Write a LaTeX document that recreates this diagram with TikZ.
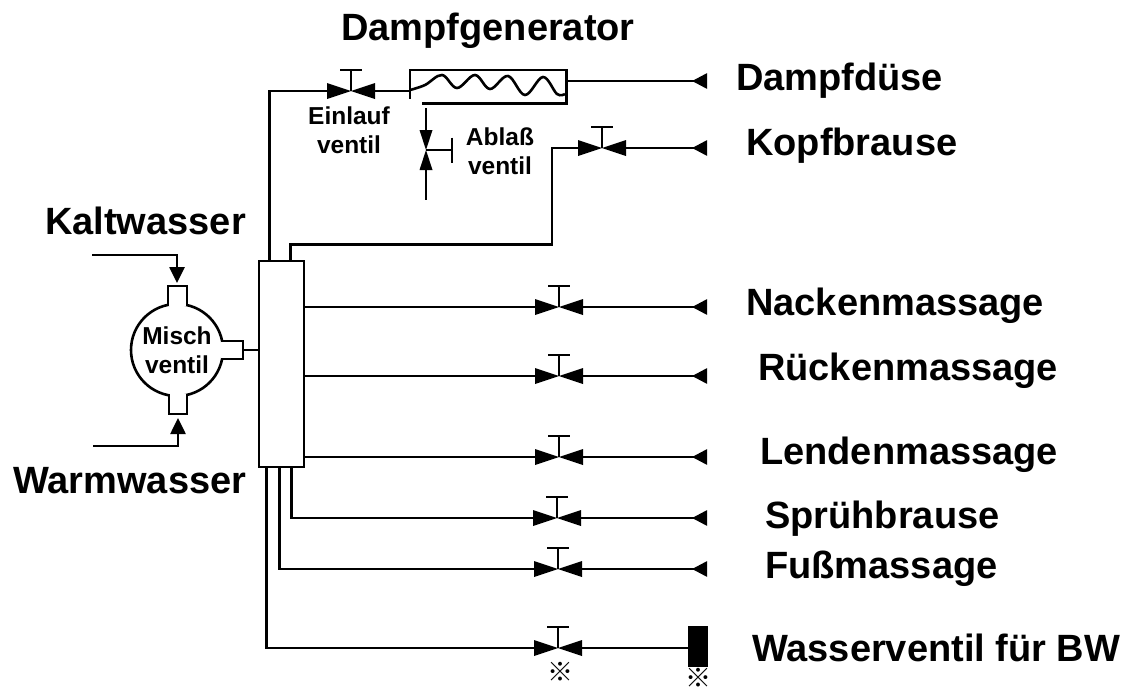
\documentclass[tikz,border=0pt]{standalone}
\usepackage{fontspec}
\setmainfont{Liberation Sans}
\newfontfamily\markfont{Noto Sans CJK JP}
\usepackage{tikz}
\usetikzlibrary{
    arrows.meta,
    positioning
}
\tikzset{pipe/.style={
    draw,
    line width=2.6pt,
}}
\tikzset{endtip/.style={
    pipe,
    -{Triangle[reversed,length=15pt,width=15pt]},
}}
\tikzset{intip/.style={
    pipe,
    -{Triangle[length=16pt,width=15pt]},
}}
\tikzset{biglabel/.style={
    inner sep=0pt,
    anchor=west,
    font=\fontsize{38}{42}\selectfont\bfseries,
}}
\tikzset{smalllabel/.style={
    inner sep=0pt,
    align=center,
    font=\fontsize{24.5}{29}\selectfont\bfseries,
}}
\tikzset{refmark/.style={
    inner sep=0pt,
    font=\fontsize{26}{28}\selectfont\markfont\bfseries,
}}
\tikzset{manifold/.style={
    pipe,
    fill=white,
    minimum width=45pt,
    minimum height=206pt,
    inner sep=0pt,
}}
\tikzset{mixer/.style={
    pipe,
    circle,
    minimum size=92pt,
    inner sep=0pt,
    align=center,
    font=\fontsize{24.5}{29}\selectfont\bfseries,
}}
\tikzset{generator/.style={
    draw=none,
    minimum width=156pt,
    minimum height=33pt,
    inner sep=0pt,
}}
\tikzset{waterblock/.style={
    fill=black,
    minimum width=20pt,
    minimum height=41pt,
    inner sep=0pt,
}}
\tikzset{valve/.pic={
    \fill (-24,-8) -- (0,0) -- (-24,8) -- cycle;
    \fill (24,-8) -- (0,0) -- (24,8) -- cycle;
    \draw[pipe] (0,0) -- (0,-21);
    \draw[pipe] (-11,-21) -- (11,-21);
    \coordinate (-left) at (-24,0);
    \coordinate (-right) at (24,0);
}}
\tikzset{drainvalve/.pic={
    \fill (-6.5,-20) -- (0,0) -- (6.5,-20) -- cycle;
    \fill (-6.5,20) -- (0,0) -- (6.5,20) -- cycle;
    \draw[pipe] (0,0) -- (26,0);
    \draw[pipe] (26,-12.5) -- (26,12.5);
    \coordinate (-top) at (0,-20);
    \coordinate (-bottom) at (0,20);
}}

\begin{document}
\begin{tikzpicture}[x=1pt,y=-1pt]
            \useasboundingbox (0,0) rectangle (1132,691);

            % manifold and mixing valve
            \node[manifold] (rail) at (281.5,364) {};
            \node[mixer] (misch) at (177,350) {Misch\\ventil};
            \draw[pipe,fill=white] (168,306) -- (168,286) -- (187,286) -- (187,306);
            \draw[pipe,fill=white] (169,394) -- (169,414) -- (187,414) -- (187,394);
            \draw[pipe,fill=white] (221,341) -- (243,341) -- (243,359) -- (221,359);
            \coordinate (mischout) at (243,350);
            \coordinate (kaltin) at (92,255);
            \coordinate (kalttip) at (177,283);
            \coordinate (warmin) at (93,446);
            \coordinate (warmtip) at (178,418);
            \draw[intip] (kaltin) -| (kalttip);
            \draw[intip] (warmin) -| (warmtip);
            \draw[pipe] (mischout) -- (rail.west |- mischout);

            % valves
            \pic (v0) at (351,91) {valve};
            \pic (v1) at (602,148) {valve};
            \pic (v2) at (559,307) {valve};
            \pic (v3) at (559,376) {valve};
            \pic (v4) at (559,457) {valve};
            \pic (v5) at (557,518) {valve};
            \pic (v6) at (558,569) {valve};
            \pic (v7) at (558,648) {valve};

            % free ends on the right
            \coordinate (e0) at (707,81);
            \coordinate (e1) at (707,148);
            \coordinate (e2) at (707,307);
            \coordinate (e3) at (707,376);
            \coordinate (e4) at (707,457);
            \coordinate (e5) at (707,518);
            \coordinate (e6) at (707,569);
            \node[waterblock] (block) at (698,646.5) {};

            % steam generator
            \node[generator] (gen) at (488,86.5) {};
            \draw[pipe] ([yshift=-29pt]gen.north west) -- (gen.north west) -- (gen.north east) -- (gen.south east) -- ([xshift=12pt]gen.south west);
            \draw[pipe] plot[smooth,tension=0.6] coordinates {(410,90) (425,85) (442,75) (457,88) (475,75) (490,89) (508,76) (525,95) (543,77) (557,94) (565,94)};
            \draw[pipe] (v0-right) -- (gen.west |- v0-right);
            \draw[endtip] (gen.east |- e0) -- (e0);

            % drain valve
            \pic (v8) at (426,150) {drainvalve};
            \coordinate (drainin) at (426,108);
            \coordinate (drainout) at (426,200);
            \draw[pipe] (drainin) -- (v8-top);
            \draw[pipe] (v8-bottom) -- (drainout);

            % pipes from the manifold
            \coordinate (kopfbend) at (552,148);
            \draw[pipe] ([xshift=12pt]rail.north west) |- (v0-left);
            \draw[pipe] ([xshift=33pt]rail.north west) -- ++(0,-15) -| (kopfbend) -- (v1-left);
            \draw[pipe] (rail.east |- v2-left) -- (v2-left);
            \draw[pipe] (rail.east |- v3-left) -- (v3-left);
            \draw[pipe] (rail.east |- v4-left) -- (v4-left);
            \draw[pipe] ([xshift=34pt]rail.south west) |- (v5-left);
            \draw[pipe] ([xshift=22pt]rail.south west) |- (v6-left);
            \draw[pipe] ([xshift=9pt]rail.south west) |- (v7-left);

            \draw[endtip] (v1-right) -- (e1);
            \draw[endtip] (v2-right) -- (e2);
            \draw[endtip] (v3-right) -- (e3);
            \draw[endtip] (v4-right) -- (e4);
            \draw[endtip] (v5-right) -- (e5);
            \draw[endtip] (v6-right) -- (e6);
            \draw[pipe] (v7-right) -- (block.west |- v7-right);

            % labels
            \node[biglabel, anchor=center] (dampfgen) at (488,31) {Dampfgenerator};
            \node[biglabel] (duese) at (736,81) {Dampfdüse};
            \node[biglabel] (kopf) at (746,146) {Kopfbrause};
            \node[biglabel] (kalt) at (45,221) {Kaltwasser};
            \node[biglabel] (warm) at (13,481) {Warmwasser};
            \node[biglabel] (nacken) at (746,306) {Nackenmassage};
            \node[biglabel] (ruecken) at (758,371) {Rückenmassage};
            \node[biglabel] (lenden) at (760,455) {Lendenmassage};
            \node[biglabel] (spruehen) at (765,519) {Sprühbrause};
            \node[biglabel] (fuss) at (765,569) {Fußmassage};
            \node[biglabel] (bw) at (752,648) {Wasserventil für BW};
            \node[smalllabel] (einlauf) at (349,130) {Einlauf\\ventil};
            \node[smalllabel] (ablass) at (500,151) {Ablaß\\ventil};
            \node[refmark] (mark1) at (560,672) {※};
            \node[refmark] (mark2) at (698,677.5) {※};

        \end{tikzpicture}
\end{document}
